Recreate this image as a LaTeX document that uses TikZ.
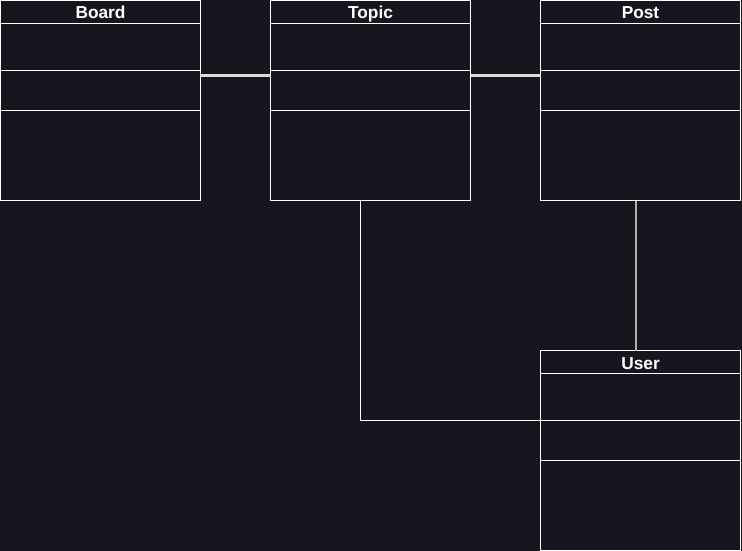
\documentclass[tikz,border=0pt]{standalone}
\usepackage{fontspec}
\setmainfont{Liberation Sans}
\definecolor{bg}{RGB}{24,21,30}
\definecolor{lineg}{RGB}{220,220,220}
\begin{document}
\begin{tikzpicture}[x=1pt,y=-1pt,
  entity/.style={draw=white,line width=1pt,minimum width=200pt,minimum height=200pt,anchor=north west,inner sep=0pt,outer sep=0pt},
  title/.style={text=white,font=\bfseries\fontsize{17.3}{19}\selectfont,inner sep=0pt,anchor=base},
  divider/.style={draw=white,line width=1pt},
  thickconn/.style={draw=lineg,line width=3pt},
  vconn/.style={draw=lineg!80!black,line width=2pt},
  thinconn/.style={draw=white,line width=1pt}]
\fill[bg] (0,0) rectangle (742,551);
\useasboundingbox (0,0) rectangle (742,551);
\node[entity] (board) at (0.5,0.5) {};
\node[entity] (topic) at (270.5,0.5) {};
\node[entity] (post) at (540.5,0.5) {};
\node[entity] (user) at (540.5,350.5) {};
\foreach \b in {board,topic,post,user}{
  \draw[divider] ([yshift=-23pt]\b.north west) -- ([yshift=-23pt]\b.north east);
  \draw[divider] ([yshift=-70pt]\b.north west) -- ([yshift=-70pt]\b.north east);
  \draw[divider] ([yshift=-110pt]\b.north west) -- ([yshift=-110pt]\b.north east);
}
\node[title] (boardt) at ([yshift=-18.5pt]board.north) {Board};
\node[title] (topict) at ([yshift=-18.5pt]topic.north) {Topic};
\node[title] (postt) at ([yshift=-18.5pt]post.north) {Post};
\node[title] (usert) at ([yshift=-18.5pt]user.north) {User};
\draw[thickconn] ([yshift=25pt]board.east) -- ([yshift=25pt]topic.west);
\draw[thickconn] ([yshift=25pt]topic.east) -- ([yshift=25pt]post.west);
\draw[vconn] ([xshift=-5pt]post.south) -- ([xshift=-5pt]user.north);
\draw[thinconn] ([xshift=-10pt]topic.south) |- ([yshift=30pt]user.west);
\end{tikzpicture}
\end{document}
